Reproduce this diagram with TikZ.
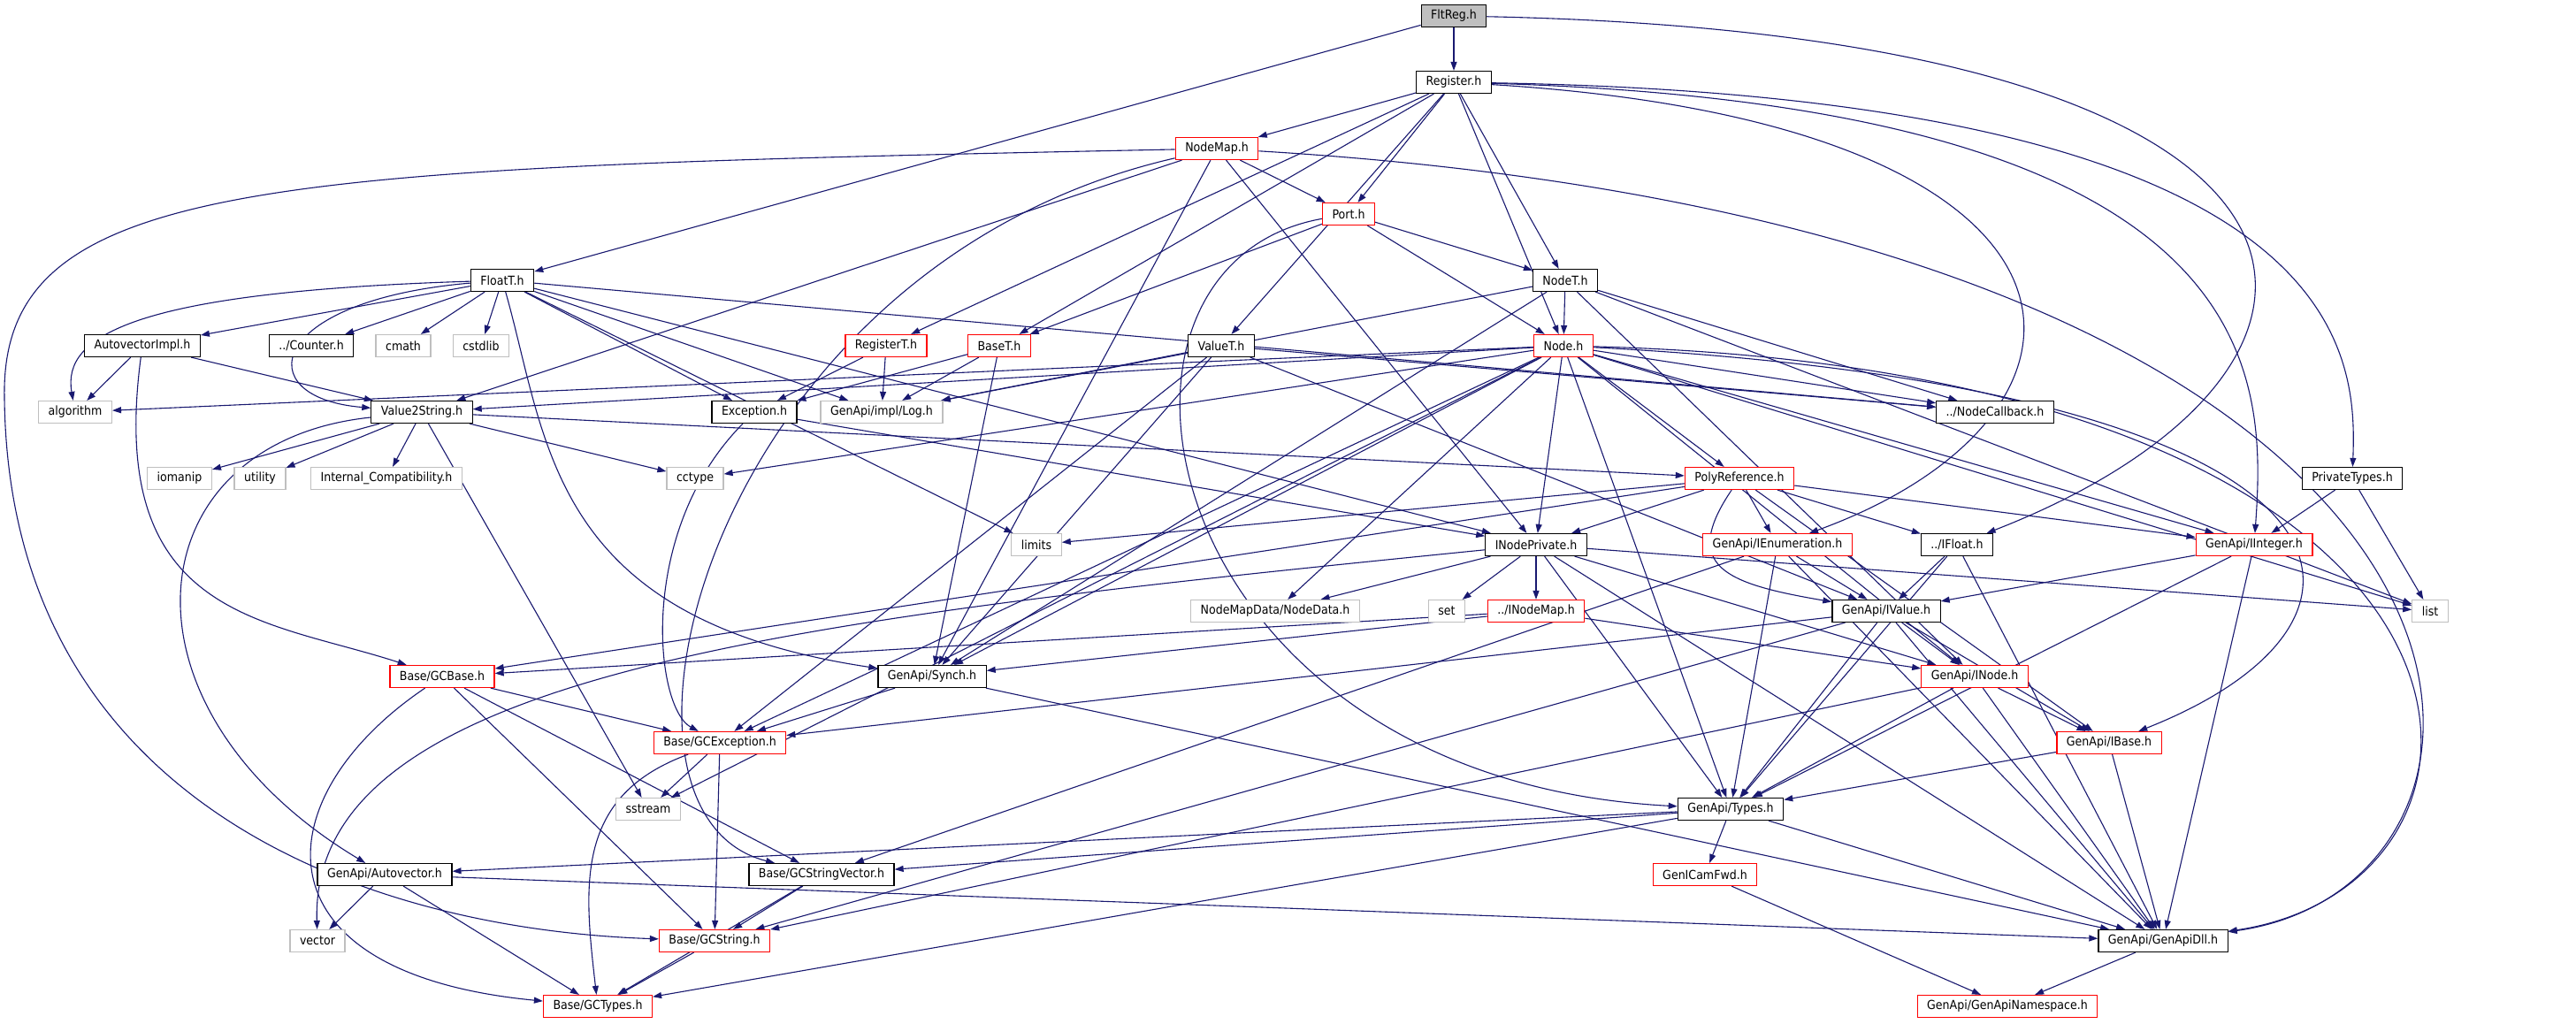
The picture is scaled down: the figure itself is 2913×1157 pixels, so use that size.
\documentclass[tikz,border=0pt]{standalone}
\usepackage{fontspec}
\setmainfont[FakeStretch=0.9]{DejaVu Sans}
\usetikzlibrary{arrows.meta}
\pgfdeclarelayer{background}
\pgfsetlayers{background,main}
\definecolor{edgeblue}{HTML}{191970}
\definecolor{sysgray}{HTML}{BFBFBF}
\tikzset{
  hdr/.style={draw=black, line width=1.2pt, rectangle, minimum height=25pt,
    inner xsep=11pt, inner ysep=0pt, fill=white, font=\fontsize{14}{16}\selectfont},
  hdrred/.style={hdr, draw=red},
  hdrsys/.style={hdr, draw=sysgray},
  hdrroot/.style={hdr, fill=sysgray},
  inc/.style={draw=edgeblue, line width=1.1pt, -{Triangle[length=10pt,width=7pt]}}
}
\begin{document}
\begin{tikzpicture}[x=1pt,y=-1pt]

\useasboundingbox (0,0) rectangle (2913,1157);

% headers, top to bottom
\node[hdrroot] (fltreg) at (1644,18) {FltReg.h};
\node[hdr] (register) at (1644,93) {Register.h};
\node[hdrred] (nodemap) at (1376,168) {NodeMap.h};
\node[hdrred] (port) at (1525,242) {Port.h};
\node[hdr] (floatt) at (568,317) {FloatT.h};
\node[hdr] (nodet) at (1770,317) {NodeT.h};
\node[hdr] (autovecimpl) at (161,391) {AutovectorImpl.h};
\node[hdr] (counter) at (352,391) {../Counter.h};
\node[hdrsys] (cmath) at (456,391) {cmath};
\node[hdrsys] (cstdlib) at (544,391) {cstdlib};
\node[hdrred] (registert) at (1002,391) {RegisterT.h};
\node[hdrred] (baset) at (1130,391) {BaseT.h};
\node[hdr] (valuet) at (1381,391) {ValueT.h};
\node[hdrred] (node) at (1768,391) {Node.h};
\node[hdrsys] (algorithm) at (85,466) {algorithm};
\node[hdr] (value2string) at (477,466) {Value2String.h};
\node[hdr] (exception) at (853,466) {Exception.h};
\node[hdrsys] (log) at (997,466) {GenApi/impl/Log.h};
\node[hdr] (nodecallback) at (2256,466) {../NodeCallback.h};
\node[hdrsys] (iomanip) at (203,541) {iomanip};
\node[hdrsys] (utility) at (294,541) {utility};
\node[hdrsys] (internalcompat) at (437,541) {Internal\_Compatibility.h};
\node[hdrsys] (cctype) at (786,541) {cctype};
\node[hdrred] (polyref) at (1967,541) {PolyReference.h};
\node[hdr] (privatetypes) at (2660,541) {PrivateTypes.h};
\node[hdrsys] (limits) at (1172,616) {limits};
\node[hdr] (inodeprivate) at (1737,616) {INodePrivate.h};
\node[hdrred] (ienumeration) at (2010,616) {GenApi/IEnumeration.h};
\node[hdr] (ifloat) at (2213,616) {../IFloat.h};
\node[hdrred] (iinteger) at (2549,616) {GenApi/IInteger.h};
\node[hdrsys] (nodedata) at (1442,691) {NodeMapData/NodeData.h};
\node[hdrsys] (set) at (1636,691) {set};
\node[hdrred] (inodemap) at (1737,691) {../INodeMap.h};
\node[hdr] (ivalue) at (2133,691) {GenApi/IValue.h};
\node[hdrsys] (list) at (2748,691) {list};
\node[hdrred] (gcbase) at (500,765) {Base/GCBase.h};
\node[hdr] (synch) at (1054,765) {GenApi/Synch.h};
\node[hdrred] (inode) at (2233,765) {GenApi/INode.h};
\node[hdrred] (gcexception) at (814,840) {Base/GCException.h};
\node[hdrred] (ibase) at (2385,840) {GenApi/IBase.h};
\node[hdrsys] (sstream) at (733,915) {sstream};
\node[hdr] (types) at (1957,915) {GenApi/Types.h};
\node[hdr] (autovector) at (435,989) {GenApi/Autovector.h};
\node[hdr] (gcstringvector) at (929,989) {Base/GCStringVector.h};
\node[hdrred] (genicamfwd) at (1928,989) {GenICamFwd.h};
\node[hdrsys] (vector) at (359,1064) {vector};
\node[hdrred] (gcstring) at (808,1064) {Base/GCString.h};
\node[hdr] (genapidll) at (2446,1064) {GenApi/GenApiDll.h};
\node[hdrred] (gctypes) at (676,1138) {Base/GCTypes.h};
\node[hdrred] (namespace) at (2270,1138) {GenApi/GenApiNamespace.h};

\begin{pgfonlayer}{background}
\fill[white] (0,0) rectangle (2913,1157);

% FltReg.h
\draw[inc] (fltreg) -- (register);
\draw[inc] (fltreg) -- (floatt);
\draw[inc] (fltreg) .. controls (2716,40) and (2716,420) .. (ifloat);

% Register.h
\draw[inc] (register) -- (nodemap);
\draw[inc] (register) -- (port);
\draw[inc] (register) -- (nodet);
\draw[inc] (register) -- (node);
\draw[inc] (register) -- (registert);
\draw[inc] (register) -- (baset);
\draw[inc] (register) -- (valuet);
\draw[inc] (register) .. controls (2660,110) and (2665,400) .. (privatetypes);
\draw[inc] (register) .. controls (2563,120) and (2563,420) .. (iinteger);
\draw[inc] (register) .. controls (2412,140) and (2412,470) .. (ienumeration);

% NodeMap.h
\draw[inc] (nodemap) -- (port);
\draw[inc] (nodemap) -- (value2string);
\draw[inc] (nodemap) -- (inodeprivate);
\draw[inc] (nodemap) -- (synch);
\draw[inc] (nodemap) .. controls (800,300) and (650,920) .. (gcstringvector);
\draw[inc] (nodemap) .. controls (300,190) and (0,200) .. (5,450)
  .. controls (10,900) and (400,1050) .. (gcstring);
\draw[inc] (nodemap) .. controls (2907,260) and (2907,1000) .. (genapidll);

% Port.h
\draw[inc] (port) -- (nodet);
\draw[inc] (port) -- (node);
\draw[inc] (port) -- (baset);
\draw[inc] (port) .. controls (1200,300) and (1300,880) .. (types);

% NodeT.h
\draw[inc] (nodet) -- (node);
\draw[inc] (nodet) -- (log);
\draw[inc] (nodet) -- (nodecallback);
\draw[inc] (nodet) -- (list);
\draw[inc] (nodet) -- (inode);
\draw[inc] (nodet) -- (synch);

% FloatT.h
\draw[inc] (floatt) -- (autovecimpl);
\draw[inc] (floatt) -- (counter);
\draw[inc] (floatt) -- (cmath);
\draw[inc] (floatt) -- (cstdlib);
\draw[inc] (floatt) .. controls (150,330) and (70,380) .. (algorithm);
\draw[inc] (floatt) .. controls (300,340) and (280,450) .. (value2string);
\draw[inc] (floatt) -- (exception);
\draw[inc] (floatt) -- (log);
\draw[inc] (floatt) -- (nodecallback);
\draw[inc] (floatt) -- (inodeprivate);
\draw[inc] (floatt) -- (limits);
\draw[inc] (floatt) .. controls (620,500) and (620,700) .. (synch);

% RegisterT.h, BaseT.h, ValueT.h
\draw[inc] (registert) -- (exception);
\draw[inc] (registert) -- (log);
\draw[inc] (baset) -- (exception);
\draw[inc] (baset) -- (log);
\draw[inc] (baset) -- (synch);
\draw[inc] (valuet) -- (log);
\draw[inc] (valuet) -- (nodecallback);
\draw[inc] (valuet) -- (synch);
\draw[inc] (valuet) -- (gcexception);
\draw[inc] (valuet) -- (ivalue);

% Node.h
\draw[inc] (node) -- (algorithm);
\draw[inc] (node) -- (value2string);
\draw[inc] (node) -- (cctype);
\draw[inc] (node) -- (nodecallback);
\draw[inc] (node) -- (polyref);
\draw[inc] (node) -- (inodeprivate);
\draw[inc] (node) -- (nodedata);
\draw[inc] (node) -- (iinteger);
\draw[inc] (node) -- (list);
\draw[inc] (node) -- (inode);
\draw[inc] (node) .. controls (2700,440) and (2740,700) .. (ibase);
\draw[inc] (node) -- (synch);
\draw[inc] (node) -- (gcexception);
\draw[inc] (node) -- (sstream);
\draw[inc] (node) -- (types);
\draw[inc] (node) .. controls (2880,420) and (2880,1000) .. (genapidll);

% AutovectorImpl.h, Value2String.h, Exception.h
\draw[inc] (autovecimpl) -- (algorithm);
\draw[inc] (autovecimpl) -- (value2string);
\draw[inc] (autovecimpl) .. controls (120,700) and (300,700) .. (gcbase);
\draw[inc] (value2string) -- (iomanip);
\draw[inc] (value2string) -- (utility);
\draw[inc] (value2string) -- (internalcompat);
\draw[inc] (value2string) -- (cctype);
\draw[inc] (value2string) -- (sstream);
\draw[inc] (value2string) .. controls (150,500) and (120,800) .. (autovector);
\draw[inc] (value2string) -- (polyref);
\draw[inc] (exception) .. controls (720,600) and (740,800) .. (gcexception);
\draw[inc] (exception) -- (inodeprivate);

% PolyReference.h, PrivateTypes.h
\draw[inc] (polyref) -- (limits);
\draw[inc] (polyref) -- (inodeprivate);
\draw[inc] (polyref) -- (ienumeration);
\draw[inc] (polyref) -- (ifloat);
\draw[inc] (polyref) -- (iinteger);
\draw[inc] (polyref) .. controls (1900,640) and (1950,660) .. (ivalue);
\draw[inc] (polyref) -- (gcbase);
\draw[inc] (polyref) -- (ibase);
\draw[inc] (privatetypes) -- (iinteger);
\draw[inc] (privatetypes) -- (list);

% INodePrivate.h, ../INodeMap.h
\draw[inc] (inodeprivate) -- (nodedata);
\draw[inc] (inodeprivate) .. controls (900,700) and (350,760) .. (vector);
\draw[inc] (inodeprivate) -- (set);
\draw[inc] (inodeprivate) -- (inodemap);
\draw[inc] (inodeprivate) -- (types);
\draw[inc] (inodeprivate) -- (inode);
\draw[inc] (inodeprivate) -- (list);
\draw[inc] (inodeprivate) -- (genapidll);
\draw[inc] (inodemap) -- (gcbase);
\draw[inc] (inodemap) -- (synch);
\draw[inc] (inodemap) -- (inode);

% interfaces
\draw[inc] (ienumeration) -- (ivalue);
\draw[inc] (ienumeration) -- (types);
\draw[inc] (ienumeration) -- (gcstringvector);
\draw[inc] (ienumeration) -- (genapidll);
\draw[inc] (ifloat) -- (ivalue);
\draw[inc] (ifloat) -- (types);
\draw[inc] (ifloat) -- (genapidll);
\draw[inc] (iinteger) -- (ivalue);
\draw[inc] (iinteger) -- (types);
\draw[inc] (iinteger) -- (genapidll);
\draw[inc] (ivalue) -- (inode);
\draw[inc] (ivalue) -- (ibase);
\draw[inc] (ivalue) -- (gcexception);
\draw[inc] (ivalue) -- (gcstring);
\draw[inc] (ivalue) -- (types);
\draw[inc] (ivalue) -- (genapidll);
\draw[inc] (inode) -- (ibase);
\draw[inc] (inode) -- (types);
\draw[inc] (inode) -- (gcstring);
\draw[inc] (inode) -- (genapidll);
\draw[inc] (ibase) -- (types);
\draw[inc] (ibase) -- (genapidll);

% base headers
\draw[inc] (gcbase) -- (gcexception);
\draw[inc] (gcbase) -- (gcstring);
\draw[inc] (gcbase) -- (gcstringvector);
\draw[inc] (gcbase) .. controls (300,900) and (280,1100) .. (gctypes);
\draw[inc] (synch) -- (gcexception);
\draw[inc] (synch) -- (genapidll);
\draw[inc] (gcexception) -- (sstream);
\draw[inc] (gcexception) -- (gcstring);
\draw[inc] (gcexception) .. controls (650,900) and (660,1000) .. (gctypes);
\draw[inc] (types) -- (genicamfwd);
\draw[inc] (types) -- (autovector);
\draw[inc] (types) -- (gcstringvector);
\draw[inc] (types) -- (gctypes);
\draw[inc] (types) -- (genapidll);
\draw[inc] (autovector) -- (vector);
\draw[inc] (autovector) -- (gctypes);
\draw[inc] (autovector) -- (genapidll);
\draw[inc] (gcstringvector) -- (gcstring);
\draw[inc] (gcstringvector) -- (gctypes);
\draw[inc] (gcstring) -- (gctypes);
\draw[inc] (genicamfwd) -- (namespace);
\draw[inc] (genapidll) -- (namespace);
\end{pgfonlayer}

\end{tikzpicture}
\end{document}
